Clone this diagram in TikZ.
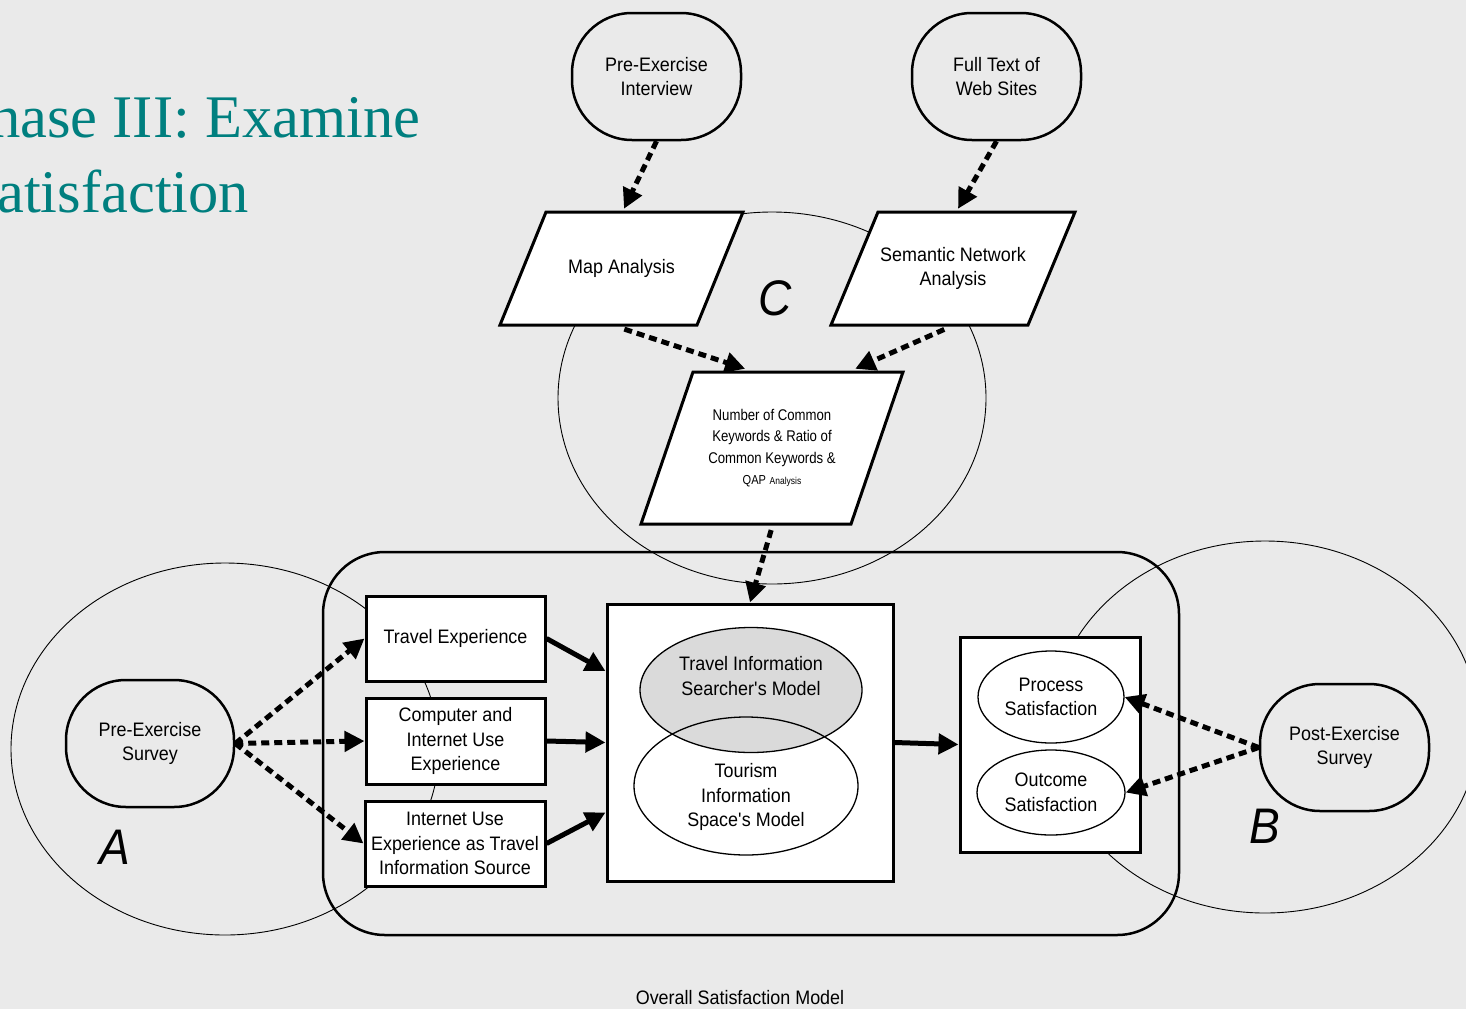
\documentclass[tikz,border=0pt]{standalone}
\usepackage{fontspec}
\setmainfont{Liberation Sans}[FakeStretch=0.92]
\newfontfamily\narrowfont{Liberation Sans}[FakeStretch=0.85]
\newfontfamily\titlefont{Liberation Serif}
\usetikzlibrary{shapes.geometric,arrows.meta,calc}
\definecolor{SlideBG}{HTML}{EAEAEA}
\definecolor{TitleTeal}{HTML}{007F7F}
\definecolor{ModelGray}{HTML}{DADADA}

\begin{document}
\begin{tikzpicture}[x=1pt,y=-1pt,
      every node/.style={font=\fontsize{19.5}{24.5}\selectfont,align=center,inner sep=0pt},
      terminal/.style={draw,line width=2.5pt,rounded corners=60pt,minimum width=169pt,minimum height=127pt},
      para/.style={path picture={
          \draw[line width=3pt,fill=white]
            ($(path picture bounding box.south west)+(3,-3)$) --
            ($(path picture bounding box.north west)+(3+#1,3)$) --
            ($(path picture bounding box.north east)+(-3,3)$) --
            ($(path picture bounding box.south east)+(-3-#1,-3)$) -- cycle;}},
      box/.style={draw,fill=white,line width=3pt},
      oval/.style={draw,ellipse,line width=1.3pt},
      region/.style={draw,ellipse,line width=0.9pt,minimum width=428pt,minimum height=372pt},
      tag/.style={font=\fontsize{50}{50}\selectfont\itshape},
      flow/.style={-{Triangle[length=20pt,width=20pt]},line width=5pt,dash pattern=on 8pt off 5pt},
      feed/.style={-{Triangle[length=20pt,width=20pt]},line width=5pt}]
    \fill[SlideBG] (0,0) rectangle (1466,1009);
    \useasboundingbox (0,0) rectangle (1466,1009);
    \node[anchor=base west,font=\fontsize{60.5}{75}\selectfont\titlefont,text=TitleTeal] (title1) at (-10,137) {hase III: Examine};
    \node[anchor=base west,font=\fontsize{60.5}{75}\selectfont\titlefont,text=TitleTeal] (title2) at (-3,212) {atisfaction};
    \node[region] (areaA) at (225,749) {};
    \node[region] (areaB) at (1265,727) {};
    \node[region] (areaC) at (772,398) {};
    \node[draw,line width=2.5pt,rounded corners=62pt,minimum width=856pt,minimum height=383pt] (overall) at (751,743.5) {};
    \node[tag] (labA) at (115,847) {A};
    \node[tag] (labB) at (1265,826) {B};
    \node[tag] (labC) at (775,298) {C};
    \node[terminal] (interview) at (656.5,76.5) {Pre-Exercise\\Interview};
    \node[terminal] (fulltext) at (996.5,76.5) {Full Text of\\Web Sites};
    \node[para=46,minimum width=249pt,minimum height=119pt] (mapan) at (621.5,268.5) {Map Analysis};
    \node[para=47,minimum width=250pt,minimum height=119pt] (semnet) at (953,268.5) {Semantic Network\\Analysis};
    \node[para=52,minimum width=268pt,minimum height=158pt,
          font=\fontsize{15.5}{21.5}\selectfont\narrowfont] (common) at (772,448)
          {Number of Common\\Keywords \& Ratio of\\Common Keywords \&\\{\fontsize{13}{21.5}\selectfont QAP} {\fontsize{10}{21.5}\selectfont Analysis}};
    \node[box,minimum width=179pt,minimum height=85pt] (travel) at (455.5,638.5) {Travel Experience};
    \node[box,minimum width=179pt,minimum height=86pt] (computer) at (455.5,741) {Computer and\\Internet Use\\Experience};
    \node[box,minimum width=180pt,minimum height=85pt] (internet) at (455,843.5) {Internet Use\\Experience as Travel\\Information Source};
    \node[box,minimum width=286pt,minimum height=277pt] (model) at (750,742.5) {};
    \node[oval,fill=ModelGray,minimum width=222pt,minimum height=125pt,
          label={[yshift=14pt]center:Travel Information\\Searcher\textquotesingle s Model}] (searcher) at (751,690) {};
    \node[oval,minimum width=224pt,minimum height=138pt,
          label={[yshift=-11pt]center:Tourism\\Information\\Space\textquotesingle s Model}] (tourism) at (746,786) {};
    \node[box,minimum width=180pt,minimum height=215pt] (satisf) at (1050,744.5) {};
    \node[oval,minimum width=146pt,minimum height=92pt] (process) at (1051,697) {Process\\Satisfaction};
    \node[oval,minimum width=148pt,minimum height=85pt] (outcome) at (1051,792.5) {Outcome\\Satisfaction};
    \node[terminal,minimum width=168pt] (presurvey) at (150,743.5) {Pre-Exercise\\Survey};
    \node[terminal] (postsurvey) at (1344.5,747.5) {Post-Exercise\\Survey};
    \node (caption) at (740,998) {Overall Satisfaction Model};
    \draw[flow] (interview.south) -- ($(mapan.north west)!0.51!(mapan.north east)$);
    \draw[flow] (fulltext.south) -- ($(semnet.north west)!0.52!(semnet.north east)$);
    \draw[flow,shorten <=3pt] (mapan.south) -- ($(common.north west)!0.40!(common.north east)$);
    \draw[flow,shorten <=3pt] ($(semnet.south)+(-6,0)$) -- ($(common.north west)!0.81!(common.north east)$);
    \draw[flow,shorten <=3pt] (common.south) -- (model.north);
    \foreach \target in {travel,computer,internet}
      \draw[flow] (presurvey.east) -- (\target.west);
    \draw[feed] (travel.east) -- ($(model.north west)!0.245!(model.south west)$);
    \draw[feed] (computer.east) -- (model.west);
    \draw[feed] (internet.east) -- ($(model.north west)!0.75!(model.south west)$);
    \draw[feed] (model.east) -- (satisf.west);
    \draw[flow] (postsurvey.west) -- (process.east);
    \draw[flow] (postsurvey.west) -- (outcome.east);
  \end{tikzpicture}
\end{document}
